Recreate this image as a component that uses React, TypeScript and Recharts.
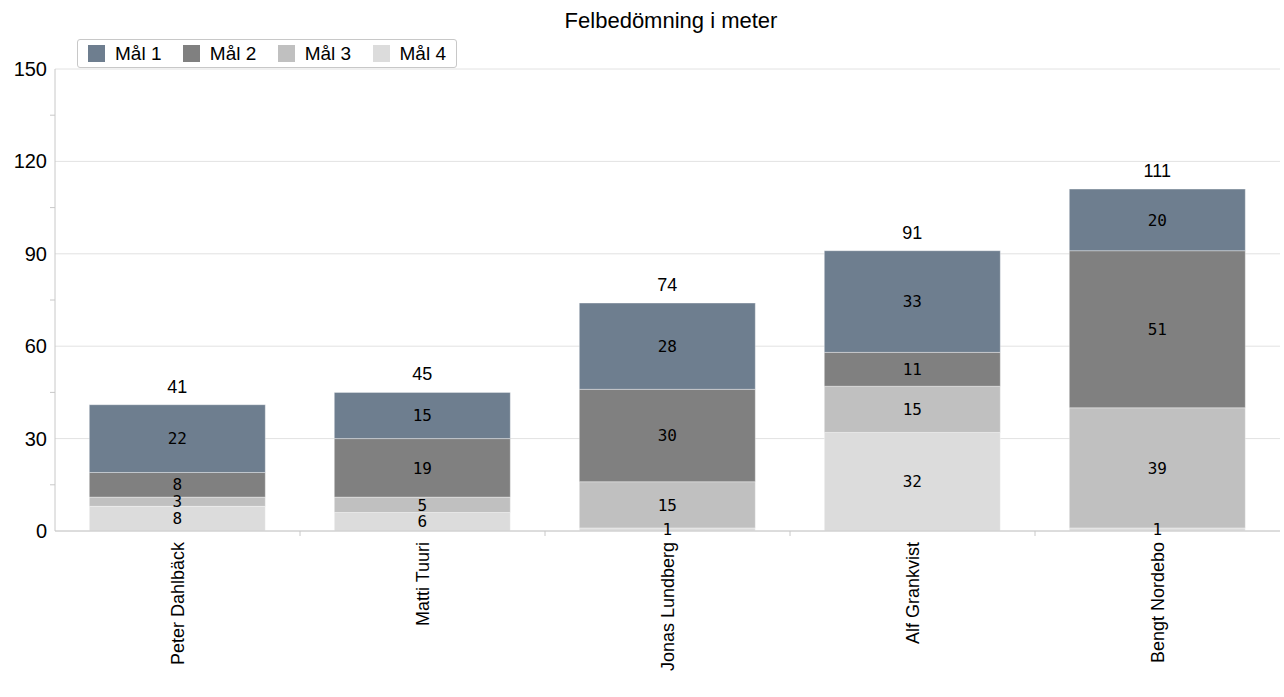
import { BarChart, Bar, XAxis, YAxis, CartesianGrid, LabelList } from 'recharts';

const NAMES = ['Peter Dahlbäck', 'Matti Tuuri', 'Jonas Lundberg', 'Alf Grankvist', 'Bengt Nordebo'];
const MAL1 = [22, 15, 28, 33, 20];
const MAL2 = [8, 19, 30, 11, 51];
const MAL3 = [3, 5, 15, 15, 39];
const MAL4 = [8, 6, 1, 32, 1];
const Y_TICKS = [0, 15, 30, 45, 60, 75, 90, 105, 120, 135, 150];
const GRID_VALUES = [0, 30, 60, 90, 120, 150];

const SERIES = [
  { key: 'mal4', name: 'Mål 4', color: '#dcdcdc' },
  { key: 'mal3', name: 'Mål 3', color: '#c0c0c0' },
  { key: 'mal2', name: 'Mål 2', color: '#808080' },
  { key: 'mal1', name: 'Mål 1', color: '#6e7e8f' },
];

const data = NAMES.map((name, i) => ({
  name,
  mal1: MAL1[i],
  mal2: MAL2[i],
  mal3: MAL3[i],
  mal4: MAL4[i],
  total: MAL1[i] + MAL2[i] + MAL3[i] + MAL4[i],
}));

const AXIS_FONT = 'Arial, "Liberation Sans", sans-serif';
const LABEL_FONT = '"DejaVu Sans Mono", monospace';
const CHART_W = 1284;
const PLOT_LEFT = 55;
const PLOT_RIGHT = 4;
const HALF_BAND = (CHART_W - PLOT_LEFT - PLOT_RIGHT) / NAMES.length / 2;

function YTick(props: any) {
  const { x, y, payload } = props;
  const major = payload.value % 30 === 0;
  return (
    <g>
      {!major && <line x1={x + 3} x2={x + 8} y1={y} y2={y} stroke="#c8c8c8" />}
      {major && (
        <text x={x} y={y} dy="0.35em" textAnchor="end" fontSize={20} fontFamily={AXIS_FONT} fill="#000">
          {payload.value}
        </text>
      )}
    </g>
  );
}

function XTick(props: any) {
  const { x, y, payload, index } = props;
  const axisY = y - 8;
  return (
    <g>
      {index > 0 && (
        <line x1={x - HALF_BAND} x2={x - HALF_BAND} y1={axisY} y2={axisY + 5} stroke="#c8c8c8" />
      )}
      <text
        x={x}
        y={y}
        transform={`rotate(-90, ${x}, ${y})`}
        textAnchor="end"
        dx={-3}
        dy="0.35em"
        fontSize={18}
        fontFamily={AXIS_FONT}
        fill="#000"
      >
        {payload.value}
      </text>
    </g>
  );
}

function LegendBox() {
  const items = [...SERIES].reverse();
  return (
    <div
      style={{
        position: 'absolute',
        top: 39,
        left: 77,
        width: 380,
        boxSizing: 'border-box',
        display: 'flex',
        alignItems: 'center',
        justifyContent: 'space-between',
        border: '1px solid #c8c8c8',
        borderRadius: 3,
        padding: '2px 10px',
        height: 29,
        fontFamily: AXIS_FONT,
        fontSize: 19,
        color: '#000',
        background: '#fff',
      }}
    >
      {items.map((s) => (
        <div key={s.key} style={{ display: 'flex', alignItems: 'center', gap: 10 }}>
          <span style={{ width: 17, height: 17, background: s.color, display: 'inline-block' }} />
          <span>{s.name}</span>
        </div>
      ))}
    </div>
  );
}

export default function App() {
  return (
    <div style={{ position: 'absolute', left: 0, top: 0, width: CHART_W, height: 697, background: '#fff' }}>
      <div
        style={{
          position: 'absolute',
          top: 8,
          left: 0,
          width: CHART_W,
          textAlign: 'center',
          fontFamily: AXIS_FONT,
          fontSize: 22,
          color: '#000',
          paddingLeft: 58,
          boxSizing: 'border-box',
        }}
      >
        Felbedömning i meter
      </div>
      <BarChart
        width={CHART_W}
        height={697}
        data={data}
        margin={{ top: 69, right: PLOT_RIGHT, bottom: 6, left: 0 }}
        barCategoryGap="14%"
      >
        <CartesianGrid vertical={false} stroke="#e2e2e2" horizontalValues={GRID_VALUES} />
        <XAxis
          dataKey="name"
          interval={0}
          height={160}
          axisLine={{ stroke: '#c8c8c8' }}
          tickLine={false}
          tick={<XTick />}
        />
        <YAxis
          domain={[0, 150]}
          ticks={Y_TICKS}
          interval={0}
          width={PLOT_LEFT}
          axisLine={{ stroke: '#c8c8c8' }}
          tickLine={false}
          tick={<YTick />}
        />
        {SERIES.map((s) => (
          <Bar
            key={s.key}
            dataKey={s.key}
            name={s.name}
            stackId="a"
            fill={s.color}
            stroke="rgba(255,255,255,0.35)"
            isAnimationActive={false}
          >
            <LabelList dataKey={s.key} position="center" fontSize={16} fontFamily={LABEL_FONT} fill="#000" />
            {s.key === 'mal1' && (
              <LabelList dataKey="total" position="top" offset={12} fontSize={18} fontFamily={AXIS_FONT} fill="#000" />
            )}
          </Bar>
        ))}
      </BarChart>
      <LegendBox />
    </div>
  );
}
